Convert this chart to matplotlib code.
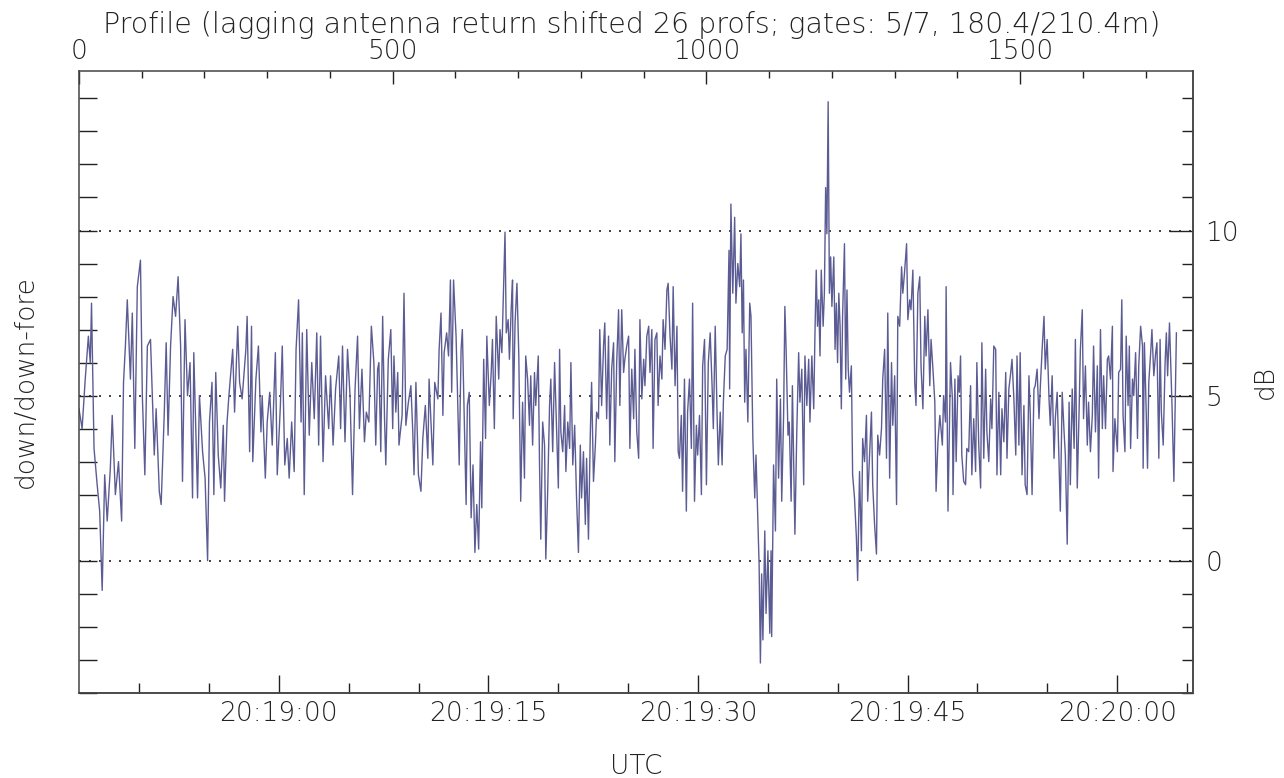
"""Down/down-fore return ratio vs profile number, IDL-style plot."""

import matplotlib

matplotlib.use("Agg")
import matplotlib.pyplot as plt
from matplotlib.ticker import FixedLocator, MultipleLocator, NullFormatter

LINE = "#5c5c94"
INK = "#222222"

# profile index of each sample
PROFILE = [
    0, 5, 10, 15, 18, 20, 24, 29, 33, 37, 41, 45, 50, 53, 58, 63, 68, 71, 74, 77,
    82, 85, 89, 93, 98, 101, 105, 109, 114, 120, 123, 128, 131, 136, 139, 142, 146, 150, 154, 158,
    162, 165, 169, 173, 177, 181, 183, 189, 192, 197, 201, 205, 208, 212, 215, 218, 222, 226, 230, 232,
    236, 239, 245, 248, 253, 256, 260, 266, 268, 272, 275, 277, 282, 286, 290, 292, 297, 300, 304, 308,
    313, 316, 321, 324, 328, 332, 335, 339, 343, 346, 350, 354, 356, 359, 363, 367, 371, 375, 379, 382,
    385, 389, 393, 398, 401, 405, 409, 414, 417, 420, 424, 428, 432, 436, 440, 444, 447, 451, 455, 458,
    462, 466, 470, 473, 476,
    478, 481, 484, 487, 489, 493, 497, 500, 502, 505, 508, 510, 515, 518, 521, 525, 529, 532, 534, 537,
    541, 545, 548, 552, 556, 558, 564, 567, 572, 574, 577, 580, 582, 586, 589, 592, 594, 597, 601, 603,
    606, 609, 611, 614, 617, 619, 622, 625, 628, 631, 634, 637, 640, 642, 645, 648, 650, 654, 657, 659,
    662, 665, 669, 671, 674, 677, 679, 681, 684, 686, 689, 691, 692, 695, 698, 701, 704, 707, 710, 712,
    715, 718, 720, 723, 726, 728, 732, 734, 736, 739, 742, 744, 747, 750, 752, 755, 758, 760, 764, 766,
    768, 771, 774, 776, 779, 782, 784, 787, 790, 793, 796, 799, 801, 804, 807, 809, 812, 815, 817, 820,
    823, 825, 828, 830, 833, 836, 838, 841, 844, 846, 849, 852, 854, 857, 860, 862, 865, 868, 870, 873,
    876, 878, 881, 884, 886, 889, 892, 894, 897, 900, 902, 905, 908, 910, 913, 915, 918, 921, 923, 926,
    929, 931, 934, 937, 939, 942, 945, 947, 950, 953, 955,
    957, 960, 962, 965, 968, 970, 973, 976, 978, 981, 984, 986, 989, 992, 994, 997, 1000, 1003, 1006, 1009,
    1011, 1014, 1017, 1019, 1022, 1025, 1027, 1030, 1033, 1036, 1037, 1039, 1042, 1045, 1047, 1050, 1053, 1055, 1057, 1059,
    1061, 1063, 1066, 1069, 1071, 1074, 1077, 1079, 1082, 1084, 1086, 1088, 1090, 1093, 1095, 1098, 1101, 1103, 1104, 1107,
    1110, 1112, 1115, 1118, 1120, 1123, 1125, 1127, 1130, 1132, 1135, 1137, 1139, 1141, 1144, 1147, 1149, 1152, 1155, 1157,
    1160, 1163, 1165, 1168, 1171, 1173, 1175, 1177, 1179, 1181, 1183, 1186, 1188, 1190, 1192, 1194, 1196, 1198, 1200, 1203,
    1205, 1207, 1209, 1211, 1213, 1215, 1217, 1220, 1222, 1224, 1226, 1228, 1231, 1233, 1236, 1239, 1241, 1244, 1247, 1249,
    1252, 1255, 1257, 1260, 1263, 1265, 1268, 1271, 1273, 1276, 1279, 1281, 1284, 1287, 1289, 1292, 1295, 1297, 1300, 1303,
    1305, 1308, 1311, 1313, 1316, 1319, 1321, 1324, 1326, 1329, 1332, 1334, 1337, 1340, 1342, 1345, 1348, 1350, 1353, 1356,
    1358, 1361, 1364, 1366, 1369, 1372,
    1376, 1378, 1381, 1382, 1385, 1389, 1392, 1393, 1396, 1398, 1401, 1403, 1405, 1407, 1410, 1413, 1415, 1418, 1421, 1423,
    1426, 1429, 1431, 1434, 1437, 1439, 1442, 1445, 1447, 1450, 1453, 1455, 1458, 1461, 1463, 1466, 1469, 1471, 1474, 1477,
    1479, 1482, 1485, 1487, 1490, 1493, 1495, 1498, 1500, 1503, 1506, 1508, 1511, 1514, 1516, 1519, 1522, 1524, 1527, 1530,
    1532, 1535, 1538, 1540, 1543, 1546, 1548, 1551, 1554, 1556, 1559, 1562, 1564, 1567, 1570, 1572, 1575, 1578, 1580, 1583,
    1586, 1588, 1591, 1594, 1596, 1599, 1601, 1604, 1607, 1609, 1612, 1615, 1617, 1620, 1623, 1625, 1628, 1631, 1633, 1636,
    1639, 1641, 1644, 1647, 1648, 1651, 1655, 1657, 1660, 1662, 1664, 1667, 1669, 1672, 1674, 1676, 1679, 1681, 1684, 1687,
    1689, 1692, 1695, 1696, 1698, 1700, 1703, 1705, 1708, 1710, 1713, 1716, 1718, 1721, 1723, 1725, 1728, 1731, 1733, 1735,
    1738, 1740, 1742, 1745, 1748, 1749,
]

# down/down-fore ratio in dB at each of those profiles
RATIO_DB = [
    4.6, 4.0, 5.5, 6.8, 6.0, 7.8, 3.4, 2.3, 1.5, -0.9, 2.6, 1.2, 2.8, 4.4, 2.0, 3.0, 1.2, 5.4, 6.5, 7.9,
    5.5, 7.5, 3.4, 8.3, 9.1, 5.0, 2.6, 6.5, 6.7, 3.2, 4.6, 2.1, 1.7, 4.5, 6.6, 3.8, 6.5, 8.0, 7.4, 8.6,
    6.5, 2.4, 7.3, 5.0, 6.0, 1.9, 6.3, 1.9, 5.0, 3.3, 2.5, 0.0, 4.2, 5.4, 2.0, 5.7, 3.2, 2.2, 4.1, 1.8,
    4.2, 5.0, 6.4, 4.5, 7.1, 5.4, 4.9, 6.4, 7.4, 3.3, 7.1, 3.0, 5.5, 6.5, 3.9, 5.0, 2.5, 4.2, 5.1, 3.5,
    6.3, 2.6, 4.7, 6.5, 2.9, 3.7, 2.5, 4.2, 2.7, 6.4, 7.9, 4.2, 6.9, 2.0, 7.0, 3.8, 6.0, 4.3, 6.9, 3.5,
    6.8, 3.0, 5.6, 4.0, 5.6, 3.5, 5.2, 6.2, 4.0, 6.5, 3.6, 6.4, 5.0, 2.0, 5.2, 6.8, 4.0, 5.8, 3.6, 4.5,
    4.2, 7.1, 6.0, 3.5, 5.8,
    6.0, 3.3, 7.4, 4.3, 2.9, 6.1, 7.0, 4.0, 6.2, 4.5, 5.7, 3.5, 4.4, 8.1, 4.1, 4.8, 5.3, 3.9, 2.6, 5.4,
    2.6, 2.1, 3.7, 4.7, 3.1, 5.5, 2.9, 5.4, 4.9, 6.4, 7.5, 4.4, 6.3, 6.9, 6.2, 8.5, 5.1, 8.5, 6.8, 5.3,
    2.9, 6.4, 7.0, 4.3, 1.7, 4.7, 5.1, 1.3, 2.9, 0.25, 1.7, 0.35, 3.6, 1.6, 6.1, 3.7, 6.8, 4.7, 5.7, 6.7,
    4.0, 7.4, 5.5, 7.0, 6.3, 8.5, 9.95, 6.9, 7.3, 6.1, 7.7, 8.5, 4.3, 7.2, 8.4, 6.2, 1.8, 4.8, 2.5, 6.2,
    5.5, 4.1, 5.6, 3.5, 5.7, 4.7, 6.2, 2.9, 0.65, 4.2, 3.5, 0.05, 2.1, 4.7, 5.5, 3.3, 6.0, 4.7, 2.2, 6.4,
    3.9, 3.3, 4.7, 2.7, 4.2, 3.4, 6.0, 2.9, 4.1, 1.9, 0.25, 3.5, 1.9, 3.3, 1.1, 3.1, 0.65, 3.9, 5.4, 2.4,
    3.5, 4.5, 4.3, 7.0, 4.7, 6.5, 7.2, 4.3, 6.8, 3.5, 5.8, 6.6, 3.0, 6.0, 7.6, 4.7, 7.6, 5.7, 6.1, 6.5,
    6.8, 3.4, 5.8, 4.3, 6.4, 3.9, 3.1, 7.3, 4.9, 6.1, 5.3, 6.8, 7.1, 5.7, 7.0, 3.4, 6.7, 6.9, 4.7, 6.2,
    5.5, 7.3, 6.4, 8.2, 8.4, 6.8, 5.8, 8.3, 5.3, 7.1, 3.3,
    3.1, 4.4, 2.1, 5.5, 1.5, 4.5, 5.5, 3.4, 7.8, 1.8, 4.1, 3.2, 4.4, 2.0, 5.9, 6.7, 2.3, 6.0, 6.9, 5.3,
    4.0, 7.1, 4.4, 2.9, 4.5, 2.9, 4.8, 6.2, 6.4, 9.4, 5.2, 10.8, 8.1, 10.4, 7.8, 9.0, 8.3, 9.9, 6.9, 8.5,
    4.8, 6.4, 4.2, 7.8, 7.4, 3.7, 1.9, 3.2, 1.2, -0.15, -3.1, -0.4, -2.4, 0.9, -1.6, 0.3, -2.2, 0.3, -2.3, 2.9,
    0.9, 5.5, 2.5, 4.9, 1.8, 4.4, 7.7, 6.4, 3.8, 4.2, 1.8, 5.3, 3.0, 0.8, 3.9, 6.3, 4.8, 5.8, 2.3, 6.2,
    4.7, 6.1, 4.2, 6.2, 4.6, 6.9, 8.8, 7.1, 7.9, 6.2, 8.8, 7.1, 8.1, 11.3, 9.9, 13.9, 8.1, 9.2, 7.7, 9.2,
    6.4, 7.8, 6.0, 8.1, 7.1, 4.6, 7.4, 9.6, 5.5, 8.2, 5.8, 5.1, 5.9, 2.6, 1.9, 0.7, -0.6, 2.7, 0.3, 3.7,
    3.0, 4.4, 1.8, 3.2, 4.5, 2.3, 1.1, 0.2, 3.8, 3.2, 4.0, 5.5, 6.4, 3.1, 7.5, 2.5, 6.0, 4.1, 5.6, 1.7,
    7.4, 7.1, 8.9, 8.1, 8.8, 9.6, 7.3, 7.9, 7.6, 8.8, 5.4, 4.7, 8.1, 8.6, 5.9, 4.6, 7.4, 6.2, 7.6, 5.3,
    6.7, 5.8, 4.8, 2.1, 3.6, 4.4,
    3.5, 5.0, 4.2, 8.3, 1.5, 6.0, 4.9, 2.0, 5.5, 3.0, 5.6, 5.1, 6.2, 3.2, 2.4, 2.3, 3.4, 3.3, 5.3, 2.6,
    4.3, 2.7, 6.0, 3.5, 2.2, 6.6, 3.1, 5.8, 3.9, 3.0, 4.9, 4.0, 6.5, 6.4, 2.6, 5.1, 2.6, 4.6, 3.6, 5.7,
    3.1, 5.2, 5.7, 6.1, 4.9, 3.2, 6.2, 3.5, 6.3, 2.6, 4.7, 2.3, 2.0, 5.6, 4.5, 2.0, 5.2, 5.3, 5.8, 4.3,
    5.2, 6.4, 7.4, 5.8, 6.7, 4.9, 4.1, 5.6, 3.1, 4.3, 5.1, 2.9, 1.5, 5.1, 3.9, 3.2, 0.5, 4.8, 2.3, 5.2,
    3.4, 6.7, 2.2, 4.6, 6.4, 7.6, 4.3, 5.9, 3.5, 4.8, 3.3, 4.4, 6.5, 3.9, 5.9, 2.5, 7.0, 4.0, 5.6, 4.0,
    6.1, 6.2, 5.5, 7.1, 2.7, 4.3, 3.3, 5.7, 5.8, 7.9, 4.4, 3.3, 6.8, 4.7, 6.5, 3.4, 5.5, 5.0, 6.3, 3.7,
    5.9, 7.1, 6.5, 2.8, 6.6, 5.2, 2.8, 5.4, 6.3, 7.0, 5.6, 6.3, 6.6, 3.1, 6.7, 4.5, 3.5, 6.0, 6.9, 5.6,
    7.2, 5.9, 4.7, 2.4, 5.8, 6.9,
]

# time axis: profile 0 sits at 20:18:45.7, ~22.27 profiles per second
T0_SEC = 45.7          # seconds after 20:18:00
PROFS_PER_SEC = 22.27
TIME_MAJOR = [60, 75, 90, 105, 120]
TIME_LABELS = ["20:19:00", "20:19:15", "20:19:30", "20:19:45", "20:20:00"]

TITLE = "Profile (lagging antenna return shifted 26 profs; gates: 5/7, 180.4/210.4m)"


def prof_to_sec(p):
    return T0_SEC + p / PROFS_PER_SEC


def sec_to_prof(s):
    return (s - T0_SEC) * PROFS_PER_SEC


plt.rcParams["font.family"] = ["DejaVu Sans"]
plt.rcParams["font.weight"] = "light"
plt.rcParams["axes.labelweight"] = "light"
plt.rcParams["text.color"] = INK

fig = plt.figure(figsize=(12.84, 7.78), dpi=100)
ax = fig.add_axes([0.0615, 0.1096, 0.8674, 0.7991])

ax.plot(PROFILE, RATIO_DB, color=LINE, lw=1.0)
for level in (0, 5, 10):
    ax.axhline(level, color=INK, lw=1.2, ls=(0, (1.2, 4.8)), zorder=0)

ax.set_xlim(0, 1775)
ax.set_ylim(-4, 14.83)

for spine in ax.spines.values():
    spine.set_color("#444444")
    spine.set_linewidth(1.1)

fs = 19
# top: profile number
ax.xaxis.tick_top()
ax.xaxis.set_major_locator(MultipleLocator(500))
ax.xaxis.set_minor_locator(MultipleLocator(100))
ax.tick_params(axis="x", which="major", direction="in", length=9, width=1,
               color=INK, labelsize=fs, labelcolor=INK, pad=5)
ax.tick_params(axis="x", which="minor", direction="in", length=5, width=1, color=INK)

# left: ticks every dB, no labels
ax.yaxis.set_major_locator(MultipleLocator(1))
ax.yaxis.set_major_formatter(NullFormatter())
ax.tick_params(axis="y", which="major", direction="in", length=13, width=1,
               color=INK, left=True, right=False)
ax.set_ylabel("down/down-fore", fontsize=fs, color=INK, labelpad=26)

# right: dB scale
ry = ax.secondary_yaxis("right")
ry.yaxis.set_major_locator(FixedLocator([0, 5, 10]))
ry.yaxis.set_minor_locator(MultipleLocator(1))
ry.tick_params(axis="y", which="major", direction="in", length=17, width=1,
               color=INK, labelsize=fs, labelcolor=INK, pad=9)
ry.tick_params(axis="y", which="minor", direction="in", length=8, width=1, color=INK)
ry.spines["right"].set_color("#444444")
ry.spines["right"].set_linewidth(1.1)
ry.set_ylabel("dB", fontsize=fs, color=INK, labelpad=10)

# bottom: UTC time
bx = ax.secondary_xaxis("bottom", functions=(prof_to_sec, sec_to_prof))
bx.xaxis.set_major_locator(FixedLocator(TIME_MAJOR))
bx.set_xticklabels(TIME_LABELS)
bx.xaxis.set_minor_locator(MultipleLocator(5))
bx.tick_params(axis="x", which="major", direction="in", length=13, width=1,
               color=INK, labelsize=fs, labelcolor=INK, pad=6)
bx.tick_params(axis="x", which="minor", direction="in", length=7, width=1, color=INK)
bx.spines["bottom"].set_color("#444444")
bx.spines["bottom"].set_linewidth(1.1)
bx.set_xlabel("UTC", fontsize=fs, color=INK, labelpad=20)

fig.text(0.492, 0.968, TITLE, ha="center", va="center", fontsize=20.5, color=INK)

fig.savefig("out.png", dpi=100, facecolor="white")
